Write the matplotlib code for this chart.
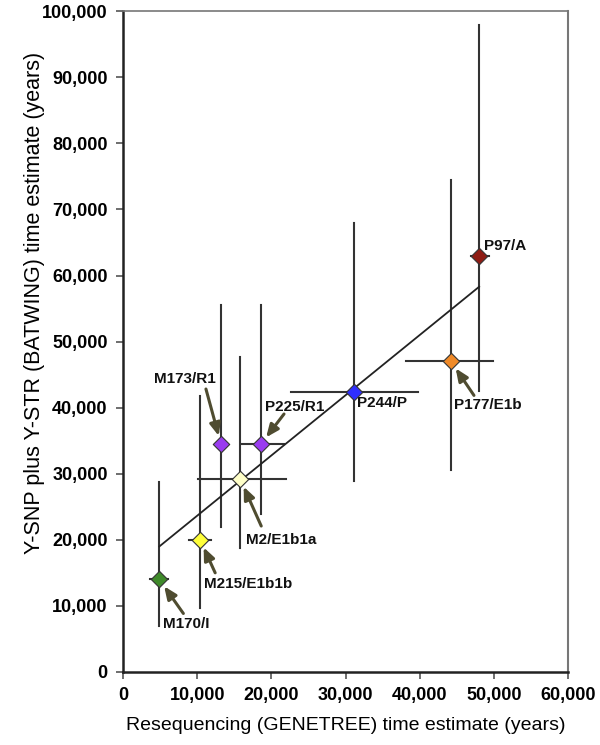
import matplotlib.pyplot as plt
from matplotlib.ticker import FuncFormatter

plt.rcParams['font.family'] = ['Liberation Sans', 'DejaVu Sans']

# Dados
nomes = ["M170/I", "M215/E1b1b", "M173/R1", "P225/R1", "M2/E1b1a", "P244/P", "P177/E1b", "P97/A"]
genetree = [4900, 10400, 13200, 18600, 15800, 31100, 44200, 48000]
batwing = [14000, 20000, 34500, 34500, 29200, 42400, 47000, 63000]
batwing_min = [7000, 9700, 22000, 23900, 18800, 28900, 30500, 42500]
batwing_max = [28700, 41800, 55500, 55500, 47700, 67900, 74500, 97900]
genetree_min = [3700, 8900, 13200, 15900, 10100, 22600, 38100, 46900]
genetree_max = [6000, 11900, 13200, 21700, 22000, 39800, 49900, 49300]
cores = ["#3f8a2a", "#ffff3a", "#9a3cf0", "#9a3cf0", "#ffffc8", "#2f2fff", "#f08a28", "#8e1c14"]

# Linha de regressao (extremos)
reg_x = [4900, 48000]
reg_y = [19000, 58300]

# posicoes dos rotulos (pixels relativos ao ponto): texto, cauda da seta, alinhamento
texto_off = [(4, -45), (4, -44), (-36, 65), (34, 37), (6, -61), (3, -11), (3, -44), (5, 10)]
seta_off = [(24, -34), (15, -33), (-15, 55), (23, 30), (21, -47), None, (23, -34), None]
alinh = ["left", "left", "center", "center", "left", "left", "left", "left"]

fig, ax = plt.subplots(figsize=(6, 7.45), dpi=100)
fig.subplots_adjust(left=0.205, right=0.947, bottom=0.098, top=0.985)

ax.plot(reg_x, reg_y, color="#222222", lw=1.3, zorder=2)

for i in range(len(nomes)):
    ax.plot([genetree[i], genetree[i]], [batwing_min[i], batwing_max[i]],
            color="#333333", lw=1.5, zorder=1)
    if genetree_max[i] > genetree_min[i]:
        ax.plot([genetree_min[i], genetree_max[i]], [batwing[i], batwing[i]],
                color="#333333", lw=1.5, zorder=1)
    ax.scatter(genetree[i], batwing[i], marker="D", s=70, color=cores[i],
               edgecolor="#333333", linewidth=0.8, zorder=4)
    if seta_off[i] is not None:
        ax.annotate("", xy=(genetree[i], batwing[i]), xytext=seta_off[i],
                    textcoords="offset pixels",
                    arrowprops=dict(arrowstyle="-|>,head_length=0.75,head_width=0.32",
                                    color="#4f4c30", lw=2.2, shrinkA=0, shrinkB=6,
                                    mutation_scale=10),
                    zorder=3)
    ax.annotate(nomes[i], xy=(genetree[i], batwing[i]), xytext=texto_off[i],
                textcoords="offset pixels", ha=alinh[i], va="center",
                fontsize=11, fontweight="bold", color="#111111")

ax.set_xlim(0, 60000)
ax.set_ylim(0, 100000)
ax.set_xticks(range(0, 60001, 10000))
ax.set_yticks(range(0, 100001, 10000))
fmt = FuncFormatter(lambda v, p: f"{int(v):,}")
ax.xaxis.set_major_formatter(fmt)
ax.yaxis.set_major_formatter(fmt)
for lab in ax.get_xticklabels() + ax.get_yticklabels():
    lab.set_fontweight("bold")
ax.tick_params(axis="both", labelsize=13, direction="out", length=5, width=1.2,
               color="#555555", pad=6)

ax.spines["left"].set_linewidth(1.8)
ax.spines["bottom"].set_linewidth(1.8)
ax.spines["left"].set_color("#222222")
ax.spines["bottom"].set_color("#222222")
ax.spines["top"].set_color("#777777")
ax.spines["right"].set_color("#777777")
ax.spines["top"].set_linewidth(1.2)
ax.spines["right"].set_linewidth(1.5)

ax.set_xlabel("Resequencing (GENETREE) time estimate (years)", fontsize=14, labelpad=9)
ax.set_ylabel("Y-SNP plus Y-STR (BATWING) time estimate (years)", fontsize=15.5)
ax.yaxis.set_label_coords(-0.175, 0.558)

plt.savefig("out.png")
